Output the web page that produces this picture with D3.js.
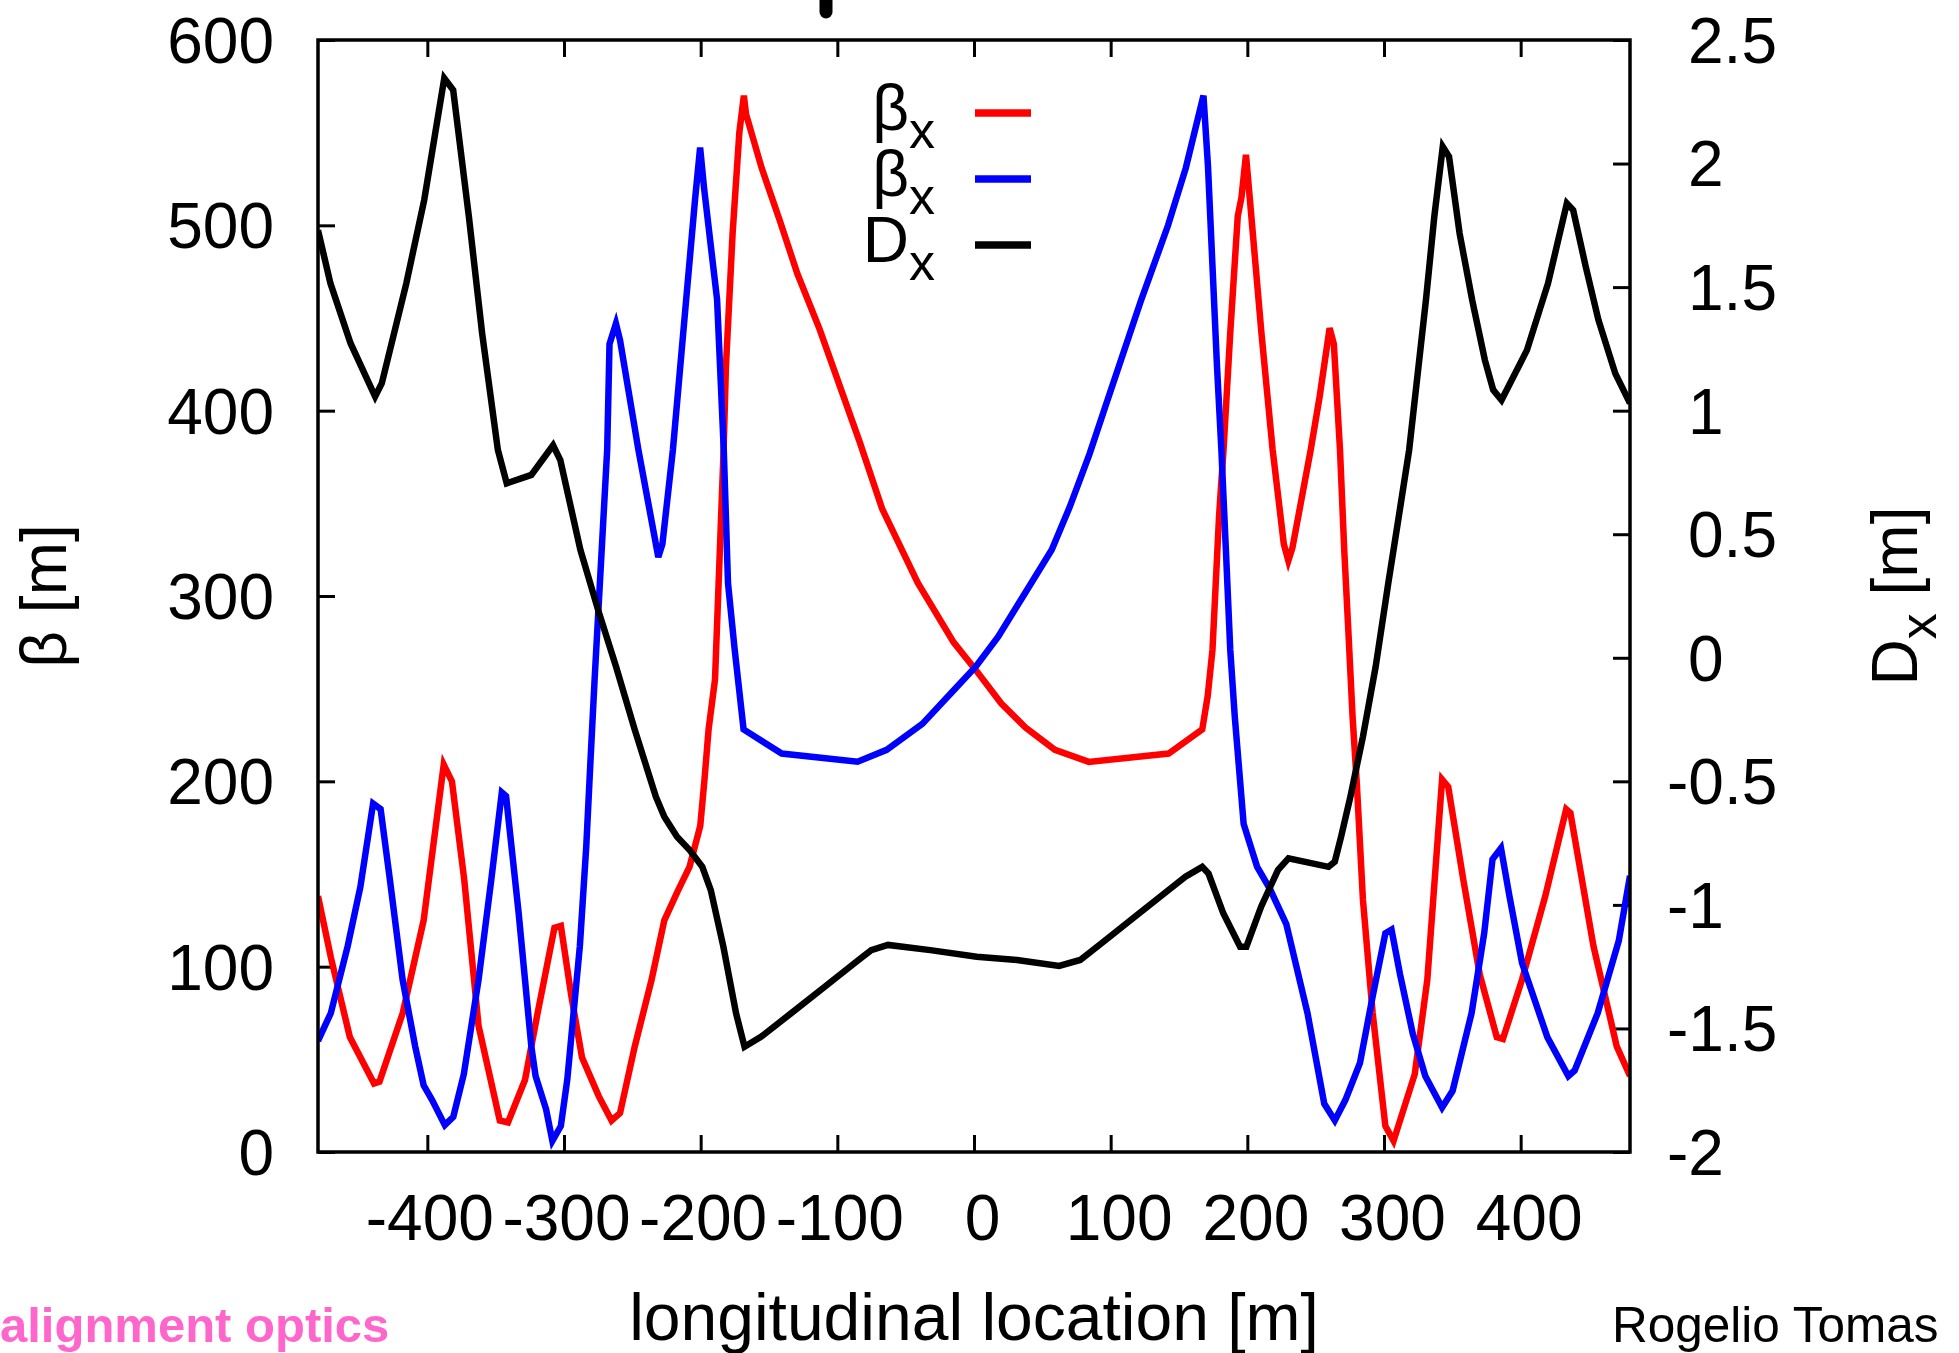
<!DOCTYPE html>
<html>
<head>
<meta charset="utf-8">
<script src="https://cdn.jsdelivr.net/npm/d3@7"></script>
<style>
  html, body { margin: 0; padding: 0; background: #fff; }
  svg { display: block; }
  text { font-family: "Liberation Sans", Arial, Helvetica, sans-serif; }
</style>
</head>
<body>
<svg id="chart" width="1959" height="1353"></svg>
<script>
// Longitudinal position s [m] paired with the optics function value.
const betaXSeries = [
  [-480, 138], [-470.6, 105], [-456.7, 62], [-439, 37], [-435, 38], [-418, 75],
  [-402.7, 125], [-388, 209], [-382, 200], [-373, 147], [-362.5, 68], [-347, 17],
  [-341, 16], [-328.5, 39], [-319.3, 75], [-307, 121], [-302.3, 122], [-294.6, 84],
  [-286.8, 51], [-274.5, 30], [-265.2, 17], [-259, 21], [-248.2, 57], [-235.9, 93],
  [-226.6, 125], [-217.3, 140], [-208.1, 154], [-200.3, 176], [-197.2, 201],
  [-194.2, 228], [-189.5, 255], [-183.2, 379], [-181.5, 424], [-176.6, 496],
  [-171.7, 550], [-168.4, 570], [-166.8, 560], [-155.4, 531], [-142.3, 503],
  [-129.3, 474], [-113, 444], [-96.6, 410], [-83.6, 383], [-67.2, 347], [-41.1, 307],
  [-14.9, 275], [1.4, 260], [20, 242], [37.7, 229], [50.3, 222], [59.2, 217],
  [84, 210.5], [142.4, 215], [167, 228], [171, 246], [174.5, 271], [179.3, 343],
  [182.6, 379], [187.5, 442], [193, 505], [195.7, 515], [199, 538], [202.1, 512],
  [210.3, 442], [218.5, 379], [226.7, 328], [230, 319], [233, 326], [246.4, 379],
  [253, 408], [260.2, 444.5], [263.3, 436], [267.8, 379], [270.9, 325], [274, 280],
  [277, 235], [280.1, 199], [284.6, 136], [291.7, 75], [301, 14], [307, 6],
  [322.5, 42], [331.7, 93], [342.5, 201], [347, 197], [358, 147], [370, 96],
  [382.5, 62], [387, 61], [401, 93], [418, 138], [433.3, 185], [436.4, 183],
  [453.3, 111], [470.3, 57], [480, 41]
];

const betaYSeries = [
  [-480, 60], [-470.6, 75], [-458.3, 111], [-449, 143], [-439.7, 188], [-434.2, 185],
  [-427.4, 147], [-418.1, 93], [-408.9, 57], [-402.7, 36], [-396.5, 28], [-387.2, 14.5],
  [-381, 19], [-373.3, 42], [-362.5, 93], [-353.2, 147], [-345.5, 194], [-342.4, 192],
  [-333.2, 129], [-323.9, 57], [-320.8, 41], [-313.1, 23], [-308.5, 6], [-302.3, 14],
  [-297.6, 39], [-293, 75], [-288.4, 111], [-283.7, 165], [-280.7, 210], [-277.6, 255],
  [-268.4, 379], [-266.7, 436], [-262, 447], [-259, 438], [-245.6, 379], [-231, 321],
  [-228, 328], [-220.3, 379], [-210.6, 460], [-204.1, 514], [-200.4, 542],
  [-197.5, 520], [-188, 460], [-183.1, 379], [-180, 307], [-175.1, 271], [-168.6, 228],
  [-140.7, 215], [-85.2, 210.6], [-63.9, 217], [-37.8, 231], [-15, 249], [1.4, 262],
  [17.7, 278], [37.3, 301.5], [56.9, 325], [70, 348], [84.7, 377], [96, 402],
  [122, 459], [142, 500], [155, 531], [167.9, 570], [171.2, 532], [174.5, 478],
  [177.8, 424], [181, 379], [184.3, 325], [187.5, 271], [190.8, 235], [197.3, 177],
  [207.1, 154], [216.5, 142], [228.5, 123], [244, 75], [256.3, 26], [264, 17],
  [271.7, 28], [282.4, 48], [291.7, 84], [301, 118], [305.5, 120], [311.7, 96],
  [321, 64], [330.2, 41], [342.5, 24], [350.2, 33], [364.1, 75], [373.3, 118],
  [379.4, 158], [385.6, 164], [391.8, 138], [401, 102], [419.5, 62], [434.9, 41],
  [439.5, 44], [456.4, 75], [471.8, 114], [480, 149]
];

const dispersionSeries = [
  [-480, 1.73], [-470.9, 1.515], [-456.2, 1.273], [-438.2, 1.057], [-433.3, 1.111],
  [-415.4, 1.515], [-402.3, 1.852], [-387.6, 2.345], [-381.1, 2.298], [-369.6, 1.785],
  [-359.9, 1.313], [-348.4, 0.841], [-341.9, 0.706], [-323.9, 0.74], [-308, 0.86],
  [-302.7, 0.8], [-288, 0.436], [-275, 0.193], [-261.9, -0.036], [-248.2, -0.292],
  [-232.8, -0.562], [-226.6, -0.643], [-217.3, -0.724], [-208.1, -0.778],
  [-198.8, -0.846], [-192.6, -0.94], [-183.4, -1.169], [-174.1, -1.439],
  [-167.9, -1.574], [-155.6, -1.533], [-133.9, -1.439], [-109.2, -1.331],
  [-84.5, -1.223], [-75.2, -1.183], [-62.9, -1.162], [-32, -1.183], [2, -1.21],
  [31.5, -1.223], [62.3, -1.247], [77.7, -1.223], [93.1, -1.156], [117.7, -1.048],
  [142.4, -0.94], [154.7, -0.886], [167, -0.846], [171.6, -0.873], [182.4, -1.034],
  [194.7, -1.169], [199.3, -1.169], [210.1, -1.007], [222.4, -0.859], [230.1, -0.812],
  [259.4, -0.846], [264, -0.825], [268.6, -0.724], [275.4, -0.562], [284.6, -0.319],
  [293.9, -0.036], [303.1, 0.301], [310.8, 0.571], [318.4, 0.841], [330.7, 1.448],
  [336.8, 1.785], [343, 2.068], [347.6, 2.028], [355.3, 1.718], [364.5, 1.448],
  [373.8, 1.205], [379.9, 1.084], [386, 1.043], [404.6, 1.245], [420, 1.515],
  [433.8, 1.839], [438.4, 1.812], [447.6, 1.583], [456.9, 1.367], [469.2, 1.151],
  [480, 1.03]
];

const sTicks = [-400, -300, -200, -100, 0, 100, 200, 300, 400];
const betaTicks = [0, 100, 200, 300, 400, 500, 600];
const dispTicks = [-2, -1.5, -1, -0.5, 0, 0.5, 1, 1.5, 2, 2.5];

const legendEntries = [
  { label: "\u03B2", sub: "x", color: "#ff0000" },
  { label: "\u03B2", sub: "x", color: "#0000ff" },
  { label: "D", sub: "x", color: "#000000" }
];

// Plot frame geometry
const frame = { left: 318, right: 1630, top: 40, bottom: 1152 };
const tickLen = 17;
const fontSize = 64;

const svg = d3.select("#chart");

const x = d3.scaleLinear().domain([-480, 480]).range([frame.left, frame.right]);
const yBeta = d3.scaleLinear().domain([0, 600]).range([frame.bottom, frame.top]);
const yDisp = d3.scaleLinear().domain([-2, 2.5]).range([frame.bottom, frame.top]);

// plain hyphen-minus labels, as gnuplot prints them
const plainFmt = d => (d < 0 ? "-" : "") + String(Math.abs(d));

svg.append("defs").append("clipPath").attr("id", "plot-clip")
  .append("rect")
  .attr("x", frame.left).attr("y", frame.top)
  .attr("width", frame.right - frame.left).attr("height", frame.bottom - frame.top);

// Axes (ticks point inward)
function styleAxis(g) {
  g.select(".domain").remove();
  g.selectAll(".tick line").attr("stroke", "#000").attr("stroke-width", 3);
  g.selectAll(".tick text")
    .style("font-size", fontSize + "px")
    .style("font-family", "'Liberation Sans', Arial, sans-serif")
    .attr("fill", "#000");
}

svg.append("g")
  .attr("transform", `translate(0,${frame.bottom})`)
  .call(d3.axisBottom(x).tickValues(sTicks).tickSize(-tickLen).tickPadding(43).tickFormat(plainFmt))
  .call(styleAxis)
  .call(g => g.selectAll(".tick text").attr("dx", d => d < 0 ? 2 : 8));

svg.append("g")
  .attr("transform", `translate(0,${frame.top})`)
  .call(d3.axisTop(x).tickValues(sTicks).tickSize(-tickLen).tickFormat(""))
  .call(styleAxis);

svg.append("g")
  .attr("transform", `translate(${frame.left},0)`)
  .call(d3.axisLeft(yBeta).tickValues(betaTicks).tickSize(-tickLen).tickPadding(44).tickFormat(plainFmt))
  .call(styleAxis)
  .call(g => g.selectAll(".tick text").attr("dy", "0.35em"));

svg.append("g")
  .attr("transform", `translate(${frame.right},0)`)
  .call(d3.axisRight(yDisp).tickValues(dispTicks).tickSize(-tickLen).tickPadding(58).tickFormat(plainFmt))
  .call(styleAxis)
  .call(g => g.selectAll(".tick text")
    .attr("dy", "0.35em")
    .attr("dx", d => d < 0 ? -21 : 0));

// Curves
const lineBeta = d3.line().x(d => x(d[0])).y(d => yBeta(d[1]));
const lineDisp = d3.line().x(d => x(d[0])).y(d => yDisp(d[1]));

const curves = svg.append("g").attr("clip-path", "url(#plot-clip)")
  .attr("fill", "none").attr("stroke-width", 6.5)
  .attr("stroke-linejoin", "miter").attr("stroke-miterlimit", 4);

curves.append("path").datum(betaXSeries).attr("stroke", "#ff0000").attr("d", lineBeta);
curves.append("path").datum(betaYSeries).attr("stroke", "#0000ff").attr("d", lineBeta);
curves.append("path").datum(dispersionSeries).attr("stroke", "#000000").attr("d", lineDisp);

// Frame
svg.append("rect")
  .attr("x", frame.left).attr("y", frame.top)
  .attr("width", frame.right - frame.left).attr("height", frame.bottom - frame.top)
  .attr("fill", "none").attr("stroke", "#000").attr("stroke-width", 3.5);

// Legend
const legend = svg.append("g");
legendEntries.forEach((e, i) => {
  const ly = 113 + i * 66;
  const t = legend.append("text")
    .attr("x", 935).attr("y", ly + 17)
    .attr("text-anchor", "end")
    .attr("fill", "#000")
    .style("font-size", fontSize + "px");
  t.append("tspan").text(e.label);
  t.append("tspan").attr("dy", 18).style("font-size", "52px").text(e.sub);
  legend.append("line")
    .attr("x1", 975).attr("x2", 1031).attr("y1", ly).attr("y2", ly)
    .attr("stroke", e.color).attr("stroke-width", 7.5);
});

// Axis titles
svg.append("text")
  .attr("x", (frame.left + frame.right) / 2).attr("y", 1340)
  .attr("text-anchor", "middle")
  .attr("fill", "#000")
  .style("font-size", "66px")
  .text("longitudinal location [m]");

svg.append("text")
  .attr("transform", "translate(66,596) rotate(-90)")
  .attr("text-anchor", "middle")
  .attr("fill", "#000")
  .style("font-size", fontSize + "px")
  .text("\u03B2 [m]");

const y2Title = svg.append("text")
  .attr("transform", "translate(1917,596) rotate(-90)")
  .attr("text-anchor", "middle")
  .attr("fill", "#000")
  .style("font-size", fontSize + "px");
y2Title.append("tspan").text("D");
y2Title.append("tspan").attr("dy", 19).style("font-size", "52px").text("x");
y2Title.append("tspan").attr("dy", -19).text(" [m]");

// Title stub at the top edge
svg.append("line")
  .attr("x1", 826).attr("x2", 826).attr("y1", -12).attr("y2", 12)
  .attr("stroke", "#000").attr("stroke-width", 13).attr("stroke-linecap", "round");

// Footer captions
svg.append("text")
  .attr("x", 0).attr("y", 1342)
  .style("font-size", "49px").style("font-weight", "bold")
  .style("fill", "#ff66cc")
  .text("alignment optics");

svg.append("text")
  .attr("x", 1612).attr("y", 1342)
  .attr("fill", "#000")
  .style("font-size", "49.5px")
  .text("Rogelio Tomas");
</script>
</body>
</html>
